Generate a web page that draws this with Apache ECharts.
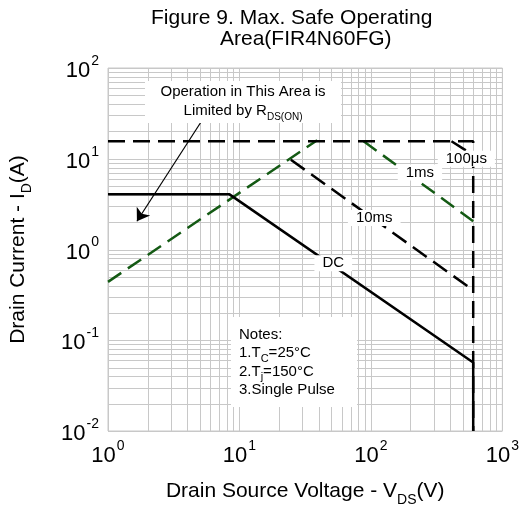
<!DOCTYPE html>
<html><head><meta charset="utf-8">
<script src="https://cdn.jsdelivr.net/npm/echarts@6/dist/echarts.min.js"></script>
<style>html,body{margin:0;padding:0;background:#fff}#c{width:522px;height:512px}</style>
</head><body><div id="c"></div>
<script>
// ---- data ----
const xRange = [1, 1000];           // V_DS (V)
const yRange = [0.01, 100];         // I_D (A)
const rdsLimit = [[1, 0.44], [39, 16]];
const dcLine = [[1, 4.05], [8.4, 4.05], [600, 0.057], [600, 0.01]];
const peakLine = [[1, 15.6], [600, 15.6], [600, 0.01]];
const us100Line = [[410, 15.6], [600, 11]];
const ms1Line = [[88, 15.6], [600, 2.05]];
const ms10Line = [[24.6, 9.75], [600, 0.356]];
const curveLabels = ['100\u03bcs', '1ms', '10ms', 'DC'];
const curveLabelAt = [[532, 10.0], [236, 7.05], [106, 2.23], [51.7, 0.705]];
const arrowFrom = [5.07, 25.1], arrowTo = [1.66, 2.05];

const FONT = 'Liberation Sans, Arial, sans-serif';
const GRID = '#c8c8c8';
const GREEN = '#145a14';

function minorVals(a, b) {
  const out = [];
  for (let d = Math.round(Math.log10(a)); d < Math.round(Math.log10(b)); d++)
    for (let m = 1; m <= 9; m++) out.push(m * Math.pow(10, d));
  out.push(b);
  return out;
}
const vGrid = minorVals(xRange[0], xRange[1]).map(v => [v, 1]);
const hGrid = minorVals(yRange[0], yRange[1]).map(v => [1, v]);

function pow10Label(v) {
  const e = Math.round(Math.log10(v));
  return '{b|10}{s|' + e + '}';
}
const tickRich = {
  b: { fontSize: 22, fontFamily: FONT, color: '#000', lineHeight: 28, verticalAlign: 'bottom' },
  s: { fontSize: 14, fontFamily: FONT, color: '#000', lineHeight: 14, verticalAlign: 'top', padding: [0, 0, 0, 1] }
};
const nameRich = {
  n: { fontSize: 21, fontFamily: FONT, color: '#000', lineHeight: 26, verticalAlign: 'top' },
  sub: { fontSize: 14, fontFamily: FONT, color: '#000', lineHeight: 14, verticalAlign: 'bottom' }
};

const lineSeries = (data, color, type, z) => ({
  type: 'line', data, showSymbol: false, symbol: 'none', silent: true, z: z || 3,
  lineStyle: { color, width: 2.5, type }, animation: false
});

const chart = echarts.init(document.getElementById('c'));
chart.setOption({
  animation: false,
  title: [
    { text: 'Figure 9. Max. Safe Operating', left: 151, top: 8, padding: 0,
      textStyle: { fontSize: 21, fontWeight: 'normal', color: '#000', fontFamily: FONT } },
    { text: 'Area(FIR4N60FG)', left: 220, top: 29, padding: 0,
      textStyle: { fontSize: 21, fontWeight: 'normal', color: '#000', fontFamily: FONT } }
  ],
  grid: { left: 106, right: 19, top: 68, bottom: 76, show: true, borderColor: GRID, borderWidth: 1 },
  xAxis: {
    type: 'log', logBase: 10, min: xRange[0], max: xRange[1],
    axisLine: { show: false }, axisTick: { show: false }, splitLine: { show: false },
    axisLabel: { formatter: pow10Label, rich: tickRich, margin: 8 },
    name: '{n|Drain Source Voltage - V}{sub|DS}{n|(V)}', nameLocation: 'middle', nameGap: 50,
    nameTextStyle: { rich: nameRich }
  },
  yAxis: {
    type: 'log', logBase: 10, min: yRange[0], max: yRange[1],
    axisLine: { show: false }, axisTick: { show: false }, splitLine: { show: false },
    axisLabel: { formatter: pow10Label, rich: tickRich, margin: 9 },
    name: '{n|Drain Current - I}{sub|D}{n|(A)}', nameLocation: 'middle', nameGap: 74,
    nameTextStyle: { rich: nameRich }
  },
  graphic: [
    { type: 'rect', z: 50, shape: { x: 145, y: 81, width: 196, height: 42 }, style: { fill: '#fff' } },
    { type: 'text', z: 51, x: 243, y: 84, style: {
        align: 'center', verticalAlign: 'top',
        text: '{t|Operation in This Area is}\n{t|Limited by R}{u|DS(ON)}',
        rich: { t: { fontSize: 15, fontFamily: FONT, lineHeight: 19, verticalAlign: 'top', fill: '#000' },
                u: { fontSize: 10, fontFamily: FONT, lineHeight: 10, verticalAlign: 'bottom', fill: '#000' } } } },
    { type: 'rect', z: 50, shape: { x: 231, y: 317, width: 126, height: 90 }, style: { fill: '#fff' } },
    { type: 'text', z: 51, x: 239, y: 327, style: {
        align: 'left', verticalAlign: 'top',
        text: '{t|Notes:}\n{t|1.T}{u|C}{t|=25\u00b0C}\n{t|2.T}{u|j}{t|=150\u00b0C}\n{t|3.Single Pulse}',
        rich: { t: { fontSize: 15, fontFamily: FONT, lineHeight: 18.5, verticalAlign: 'top', fill: '#000' },
                u: { fontSize: 11, fontFamily: FONT, lineHeight: 11, verticalAlign: 'bottom', fill: '#000' } } } }
  ],
  series: [
    { type: 'custom', data: vGrid, silent: true, z: 1, clip: false, animation: false,
      renderItem: (p, api) => {
        const a = api.coord([api.value(0), yRange[0]]), b = api.coord([api.value(0), yRange[1]]);
        const x = Math.round(a[0]) + 0.5;
        return { type: 'line', shape: { x1: x, y1: a[1], x2: x, y2: b[1] }, style: { stroke: GRID, lineWidth: 1 } };
      } },
    { type: 'custom', data: hGrid, silent: true, z: 1, clip: false, animation: false,
      renderItem: (p, api) => {
        const a = api.coord([xRange[0], api.value(1)]), b = api.coord([xRange[1], api.value(1)]);
        const y = Math.round(a[1]) + 0.5;
        return { type: 'line', shape: { x1: a[0], y1: y, x2: b[0], y2: y }, style: { stroke: GRID, lineWidth: 1 } };
      } },
    lineSeries(rdsLimit, GREEN, [16, 8]),
    lineSeries(ms1Line, GREEN, [16, 8]),
    lineSeries(ms10Line, '#000', [17, 8]),
    lineSeries(us100Line, '#000', [17, 8]),
    lineSeries(peakLine, '#000', [17, 8]),
    lineSeries(dcLine, '#000', 'solid', 4),
    { type: 'line', data: [], silent: true, z: 10, animation: false,
      markLine: { silent: true, animation: false, symbol: ['none', 'arrow'], symbolSize: 12,
        lineStyle: { color: '#000', width: 1.2, type: 'solid' }, itemStyle: { color: '#000' }, label: { show: false },
        data: [[{ coord: arrowFrom }, { coord: arrowTo }]] },
      markPoint: { silent: true, animation: false, symbol: 'rect', symbolSize: 1,
        itemStyle: { color: 'rgba(0,0,0,0)' },
        label: { show: true, position: 'inside', formatter: '{b}', fontSize: 15, fontFamily: FONT, color: '#000',
                 backgroundColor: '#fff', padding: [1, 8, 0, 8] },
        data: curveLabels.map((n, i) => ({ name: n, coord: curveLabelAt[i] })) } }
  ]
});
</script></body></html>
